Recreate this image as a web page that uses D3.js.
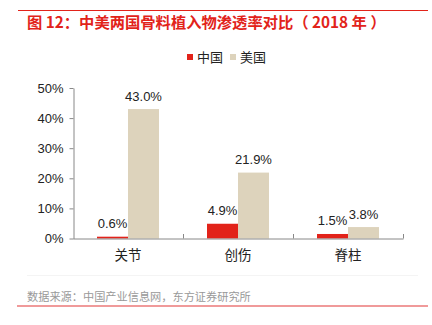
<!DOCTYPE html>
<html><head><meta charset="utf-8">
<script src="https://cdn.jsdelivr.net/npm/d3@7"></script>
<style>body{margin:0;background:#fff}svg{display:block}</style>
</head><body>
<script>
const categories = ["关节", "创伤", "脊柱"];
const seriesNames = ["中国", "美国"];
const chinaValues = [0.6, 4.9, 1.5];
const usValues = [43.0, 21.9, 3.8];
const yTicks = [0, 10, 20, 30, 40, 50];
const colors = ["#e2231a", "#ddd3bc"];

const W = 432, H = 325;
const svg = d3.select("body").append("svg").attr("width", W).attr("height", H);
const cjk = "'Noto Sans CJK SC', sans-serif";
const latin = "'Liberation Sans', Arial, sans-serif";

// top red line
svg.append("line").attr("x1", 18).attr("x2", 428).attr("y1", 10.5).attr("y2", 10.5)
  .attr("stroke", "#e2231a").attr("stroke-width", 1);
svg.append("text").attr("x", 27).attr("y", 27.5).attr("fill", "#e2231a")
  .attr("font-family", cjk).attr("font-size", 15.3).attr("font-weight", "bold")
  .text("图 12：中美两国骨料植入物渗透率对比（ 2018 年 ）");

const x0 = d3.scaleBand().domain(categories).range([73, 403]).paddingInner(0).paddingOuter(0);
const x1 = d3.scaleBand().domain(seriesNames).range([0, 62]);
const y = d3.scaleLinear().domain([0, 50]).range([238.5, 88]);

// y axis
const ya = svg.append("g").attr("transform", "translate(73.5,0)")
  .call(d3.axisLeft(y).tickValues(yTicks).tickFormat(d => d + "%").tickSize(4).tickSizeOuter(0));
ya.select(".domain").attr("stroke", "#888");
ya.selectAll(".tick line").attr("stroke", "#888");
ya.selectAll(".tick text").attr("font-family", latin).attr("font-size", 13).attr("fill", "#222").attr("x", -10);

// bars
const groups = svg.append("g").selectAll("g").data(categories).join("g")
  .attr("transform", d => `translate(${x0(d) + (x0.bandwidth() - 62) / 2},0)`);
const data = categories.map((c, i) => [chinaValues[i], usValues[i]]);
groups.each(function (c, i) {
  const g = d3.select(this);
  const vals = data[i].map((v, j) => ({ s: seriesNames[j], v, j }));
  g.selectAll("rect").data(vals).join("rect")
    .attr("x", d => x1(d.s)).attr("width", x1.bandwidth())
    .attr("y", d => y(d.v)).attr("height", d => y(0) - y(d.v))
    .attr("fill", d => colors[d.j]);
  g.selectAll("text").data(vals).join("text")
    .attr("x", d => x1(d.s) + x1.bandwidth() / 2).attr("y", d => y(d.v) - 8.5)
    .attr("text-anchor", "middle").attr("font-family", latin).attr("font-size", 13).attr("fill", "#222")
    .text(d => d.v.toFixed(1) + "%");
});

// x axis
const xa = svg.append("g").attr("transform", "translate(0,238.5)")
  .call(d3.axisBottom(x0).tickSize(0).tickSizeOuter(0));
xa.select(".domain").attr("stroke", "#888");
xa.selectAll(".tick text").attr("font-family", cjk).attr("font-size", 13.5).attr("fill", "#222").attr("dy", "1.05em").attr("y", 7);
// category separators
const seps = categories.map(c => x0(c) + x0.bandwidth());
svg.append("g").selectAll("line").data(seps).join("line")
  .attr("x1", d => d + 0.5).attr("x2", d => d + 0.5).attr("y1", 234).attr("y2", 238.5)
  .attr("stroke", "#888");

// legend
const lg = svg.append("g").selectAll("g").data(seriesNames).join("g")
  .attr("transform", (d, i) => `translate(${187 + i * 43},0)`);
lg.append("rect").attr("x", 0).attr("y", 54).attr("width", 6).attr("height", 6).attr("fill", (d, i) => colors[i]);
lg.append("text").attr("x", 10).attr("y", 62).attr("font-family", cjk).attr("font-size", 13).attr("fill", "#222").text(d => d);

// faint separator
svg.append("line").attr("x1", 27).attr("x2", 418).attr("y1", 275.5).attr("y2", 275.5).attr("stroke", "#f4f4f4");

// source
svg.append("text").attr("x", 27).attr("y", 301).attr("font-family", cjk).attr("font-size", 11.2).attr("fill", "#999")
  .text("数据来源：中国产业信息网，东方证券研究所");
svg.append("line").attr("x1", 17).attr("x2", 428).attr("y1", 306).attr("y2", 306)
  .attr("stroke", "#f09a9a").attr("stroke-width", 2);
</script>
</body></html>
